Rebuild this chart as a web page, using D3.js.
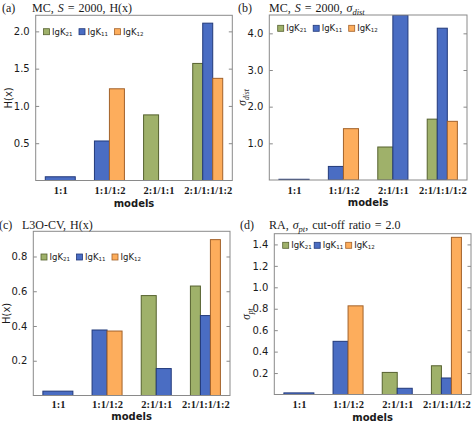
<!DOCTYPE html>
<html><head><meta charset="utf-8">
<script src="https://cdn.jsdelivr.net/npm/d3@7"></script>
<style>
html,body{margin:0;padding:0;background:#fff;}
svg{display:block;}
</style></head>
<body>
<svg id="chart" width="474" height="424"></svg>
<script>
// ---------- data ----------
const categories = ["1:1", "1:1/1:2", "2:1/1:1", "2:1/1:1/1:2"];
const seriesNames = ["IgK21", "IgK11", "IgK12"];
// null = component not present in the model
// (a) MC, S = 2000, H(x)
const aIgK21 = [null, null, 0.88, 1.57];
const aIgK11 = [0.05, 0.53, 0.0, 2.11];
const aIgK12 = [null, 1.23, null, 1.37];
const aTicks = [0.5, 1.0, 1.5, 2.0];
// (b) MC, S = 2000, sigma_dist
const bIgK21 = [null, null, 0.90, 1.66];
const bIgK11 = [0.02, 0.37, 4.5, 4.14];
const bIgK12 = [null, 1.40, null, 1.60];
const bTicks = [1.0, 2.0, 3.0, 4.0];
// (c) L3O-CV, H(x)
const cIgK21 = [null, null, 0.575, 0.63];
const cIgK11 = [0.025, 0.377, 0.155, 0.46];
const cIgK12 = [null, 0.371, null, 0.897];
const cTicks = [0.2, 0.4, 0.6, 0.8];
// (d) RA, sigma_pt, cut-off ratio = 2.0
const dIgK21 = [null, null, 0.206, 0.268];
const dIgK11 = [0.015, 0.496, 0.058, 0.154];
const dIgK12 = [null, 0.827, null, 1.466];
const dTicks = [0.2, 0.4, 0.6, 0.8, 1.0, 1.2, 1.4];
const yMax = [2.2155, 4.5, 0.945, 1.5];

// ---------- style ----------
const fills = ["#9fb16a", "#4a6dc3", "#fdad5c"];
const strokes = ["#56622f", "#22397a", "#a3622a"];
const frameColor = "#8a8a8a";

const panels = [
  {series:[aIgK21,aIgK11,aIgK12], ticks:aTicks, ymax:yMax[0], fmt:d3.format(".1f"),
   box:{l:35.7,r:232.3,t:15.3,b:180.5}, tag:"(a)", tagX:2, titleX:32, titleY:12,
   ylab:"hx", ylabX:12, legX:43.5, legY:31.7, legStep:35.5, xlabY:194, modelsY:207},
  {series:[bIgK21,bIgK11,bIgK12], ticks:bTicks, ymax:yMax[1], fmt:d3.format(".1f"),
   box:{l:269.3,r:467,t:15,b:180}, tag:"(b)", tagX:238, titleX:269, titleY:12,
   ylab:"dist", ylabX:246, legX:277.7, legY:28.3, legStep:35.5, xlabY:194, modelsY:206},
  {series:[cIgK21,cIgK11,cIgK12], ticks:cTicks, ymax:yMax[2], fmt:d3.format(".1f"),
   box:{l:33.3,r:230,t:231.3,b:395.5}, tag:"(c)", tagX:-1, titleX:22, titleY:229,
   ylab:"hx", ylabX:10, legX:41, legY:257, legStep:35.5, xlabY:408, modelsY:420},
  {series:[dIgK21,dIgK11,dIgK12], ticks:dTicks, ymax:yMax[3], fmt:d3.format(".1f"),
   box:{l:274.3,r:471,t:233.7,b:394.5}, tag:"(d)", tagX:240, titleX:269, titleY:229,
   ylab:"pt", ylabX:250, legX:282.7, legY:245.3, legStep:31.5, xlabY:407.5, modelsY:421}
];

const svg = d3.select("#chart");
const serif = "'Liberation Serif','DejaVu Serif',serif";
const sans = "'DejaVu Sans','Liberation Sans',sans-serif";

const titles = [
  t => { t.append("tspan").text("MC, "); t.append("tspan").attr("font-style","italic").text("S");
         t.append("tspan").text(" = 2000, H(x)"); },
  t => { t.append("tspan").text("MC, "); t.append("tspan").attr("font-style","italic").text("S");
         t.append("tspan").text(" = 2000, "); t.append("tspan").attr("font-style","italic").text("σ");
         t.append("tspan").attr("font-style","italic").attr("font-size","8.5px").attr("dy",2.5).text("dist"); },
  t => { t.append("tspan").text("L3O-CV, H(x)"); },
  t => { t.append("tspan").text("RA, "); t.append("tspan").attr("font-style","italic").text("σ");
         t.append("tspan").attr("font-style","italic").attr("font-size","8.5px").attr("dy",2.5).text("pt");
         t.append("tspan").attr("dy",-2.5).text(", cut-off ratio = 2.0"); }
];

panels.forEach((p, pi) => {
  const g = svg.append("g");
  const B = p.box;
  const x = d3.scalePoint().domain(categories).range([B.l, B.r]).padding(0.5);
  const y = d3.scaleLinear().domain([0, p.ymax]).range([B.b, B.t]);
  const groupW = x.step() * 0.61;

  const clipId = "clip" + pi;
  g.append("clipPath").attr("id", clipId).append("rect")
    .attr("x", B.l).attr("y", B.t).attr("width", B.r - B.l).attr("height", B.b - B.t);

  // bars
  const bars = [];
  categories.forEach((c, ci) => {
    const present = [0,1,2].filter(si => p.series[si][ci] !== null);
    const bw = groupW / present.length;
    present.forEach((si, k) => {
      bars.push({c, si, v: p.series[si][ci], x0: x(c) - groupW/2 + k*bw, w: bw});
    });
  });
  g.append("g").attr("clip-path", `url(#${clipId})`).selectAll("rect").data(bars.filter(d => d.v > 0)).join("rect")
    .attr("x", d => d.x0).attr("width", d => d.w)
    .attr("y", d => y(d.v)).attr("height", d => y(0) - y(d.v))
    .attr("fill", d => fills[d.si]).attr("stroke", d => strokes[d.si]).attr("stroke-width", 1);

  // y axis (left) with ticks inside
  const yAxis = d3.axisLeft(y).tickValues(p.ticks).tickFormat(p.fmt).tickSize(-3.5).tickPadding(6);
  const ya = g.append("g").attr("transform", `translate(${B.l},0)`).call(yAxis);
  ya.select(".domain").remove();
  ya.selectAll(".tick line").attr("stroke", frameColor);
  ya.selectAll(".tick text").attr("font-family", sans).attr("font-size", "10px").attr("fill", "#1a1a1a");
  const yAxisR = d3.axisRight(y).tickValues(p.ticks).tickFormat("").tickSize(-3.5);
  const yr = g.append("g").attr("transform", `translate(${B.r},0)`).call(yAxisR);
  yr.select(".domain").remove();
  yr.selectAll(".tick line").attr("stroke", frameColor);

  // x axis labels
  const xa = g.append("g").attr("transform", `translate(0,${B.b})`)
    .call(d3.axisBottom(x).tickSize(0).tickPadding(0));
  xa.select(".domain").remove();
  xa.selectAll(".tick text").attr("y", p.xlabY - B.b).attr("dy", 0)
    .attr("font-family", serif).attr("font-weight", "bold").attr("font-size", "10.5px").attr("fill", "#1a1a1a");

  // frame
  g.append("rect").attr("x", B.l).attr("y", B.t).attr("width", B.r - B.l).attr("height", B.b - B.t)
    .attr("fill", "none").attr("stroke", frameColor).attr("stroke-width", 1);

  // x label
  g.append("text").attr("x", (B.l + B.r)/2).attr("y", p.modelsY).attr("text-anchor", "middle")
    .attr("font-family", sans).attr("font-weight", "bold").attr("font-size", "10px").attr("fill", "#1a1a1a").text("models");

  // y label
  const yl = g.append("text").attr("transform", `translate(${p.ylabX},${(B.t + B.b)/2}) rotate(-90)`)
    .attr("text-anchor", "middle").attr("fill", "#1a1a1a");
  if (p.ylab === "hx") {
    yl.attr("font-family", sans).attr("font-size", "10px").text("H(x)");
  } else {
    yl.attr("font-family", serif).attr("font-style", "italic").attr("font-size", "11.5px");
    yl.append("tspan").text("σ");
    yl.append("tspan").attr("font-size", "7.5px").attr("dy", 2.5).text(p.ylab);
  }

  // title
  g.append("text").attr("x", p.tagX).attr("y", p.titleY).attr("font-family", serif)
    .attr("font-size", "12px").attr("fill", "#1a1a1a").text(p.tag);
  const tt = g.append("text").attr("x", p.titleX).attr("y", p.titleY).attr("font-family", serif)
    .attr("font-size", "12px").attr("word-spacing", "1px").attr("fill", "#1a1a1a");
  titles[pi](tt);

  // legend
  const lg = g.append("g");
  seriesNames.forEach((s, si) => {
    const lx = p.legX + si * p.legStep;
    lg.append("rect").attr("x", lx).attr("y", p.legY - 3).attr("width", 6).attr("height", 6)
      .attr("fill", fills[si]).attr("stroke", strokes[si]).attr("stroke-width", 0.8);
    const lt = lg.append("text").attr("x", lx + 8.5).attr("y", p.legY + 3)
      .attr("font-family", sans).attr("font-size", "8.5px").attr("fill", "#1a1a1a");
    lt.append("tspan").text(s.slice(0, 3));
    lt.append("tspan").attr("font-size", "5.5px").attr("dy", 1).text(s.slice(3));
  });
});
</script>
</body></html>
